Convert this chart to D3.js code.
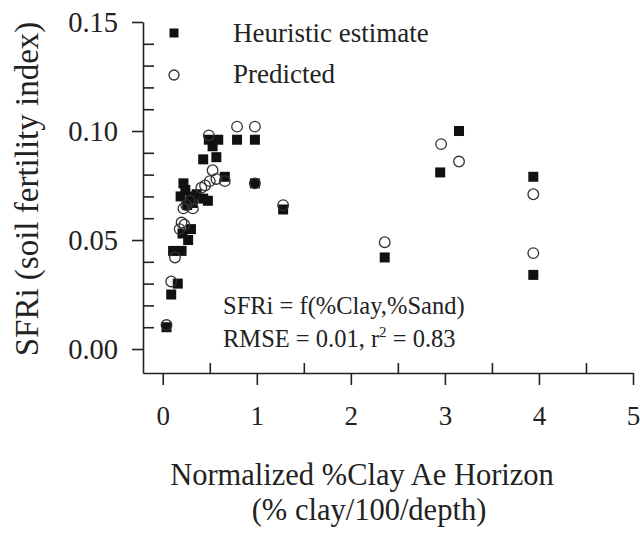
<!DOCTYPE html>
<html>
<head>
<meta charset="utf-8">
<script src="https://cdn.jsdelivr.net/npm/d3@7"></script>
<style>
  body { margin: 0; background: #fff; }
  text { font-family: "Liberation Serif", "Times New Roman", serif; fill: #222; }
</style>
</head>
<body>
<div class="viz"></div>
<script>
// heuristic estimate (filled squares): [normalized clay, SFRi]
const heuristicX = [0.04, 0.09, 0.16, 0.11, 0.20, 0.27, 0.21, 0.30, 0.19, 0.24, 0.30, 0.43, 0.48, 0.36, 0.22,
                    0.26, 0.32, 0.43, 0.57, 0.53, 0.49, 0.59, 0.79, 0.98, 0.66, 0.98, 1.28, 2.36, 2.95, 3.15, 3.94, 3.94]
const heuristicY = [0.010, 0.025, 0.030, 0.045, 0.045, 0.050, 0.053, 0.055, 0.070, 0.073, 0.070, 0.069, 0.068, 0.071, 0.076,
                    0.066, 0.067, 0.087, 0.088, 0.093, 0.096, 0.096, 0.096, 0.096, 0.079, 0.076, 0.064, 0.042, 0.081, 0.100, 0.079, 0.034]

// predicted (open circles)
const predictedX = [0.04, 0.09, 0.13, 0.18, 0.23, 0.20, 0.22, 0.32, 0.25, 0.29, 0.41, 0.45, 0.50, 0.57, 0.66,
                    0.53, 0.49, 0.79, 0.98, 0.98, 1.28, 2.36, 2.96, 3.15, 3.94, 3.94]
const predictedY = [0.011, 0.031, 0.042, 0.055, 0.057, 0.058, 0.0645, 0.0645, 0.066, 0.068, 0.074, 0.075, 0.077, 0.078, 0.077,
                    0.082, 0.098, 0.102, 0.102, 0.076, 0.066, 0.049, 0.094, 0.086, 0.071, 0.044]

const xTicks = [0, 1, 2, 3, 4, 5]
const xMinor = [0.5, 1.5, 2.5, 3.5, 4.5]
const yTicks = [0, 0.05, 0.10, 0.15]
const yMinor = [0.01, 0.02, 0.03, 0.04, 0.06, 0.07, 0.08, 0.09, 0.11, 0.12, 0.13, 0.14]

const seriesNames = ['Heuristic estimate', 'Predicted']
const noteLines = ['SFRi = f(%Clay,%Sand)', 'RMSE = 0.01, r', ' = 0.83']

const width = 640
const height = 533
const mLeft = 143, mRight = 633, mTop = 22, mBottom = 373
const ink = '#222'

const svg = d3.select('.viz')
  .append('svg')
  .attr('width', width)
  .attr('height', height)

const x = d3.scaleLinear().domain([-0.21, 5]).range([mLeft, mRight])
const y = d3.scaleLinear().domain([-0.011, 0.15]).range([mBottom, mTop])

// axes
const xAxis = svg.append('g').attr('transform', `translate(0,${mBottom})`)
xAxis.call(d3.axisBottom(x).tickValues(xTicks).tickSize(12).tickSizeOuter(0).tickFormat(d3.format('d')))
xAxis.append('g').call(d3.axisTop(x).tickValues(xMinor).tickSize(10).tickFormat(''))
  .select('.domain').remove()

const yAxis = svg.append('g').attr('transform', `translate(${mLeft},0)`)
yAxis.call(d3.axisLeft(y).tickValues(yTicks).tickSize(11).tickSizeOuter(0).tickFormat(d3.format('.2f')))
yAxis.append('g').call(d3.axisRight(y).tickValues(yMinor).tickSize(11).tickFormat(''))
  .select('.domain').remove()

svg.selectAll('.domain, .tick line')
  .attr('stroke', ink)
  .attr('stroke-width', 1.6)

xAxis.selectAll('.tick text')
  .attr('font-size', 27)
  .attr('dy', null)
  .attr('y', 52)
yAxis.selectAll('.tick text')
  .attr('font-size', 28.5)
  .attr('x', -25)

svg.selectAll('.tick text')
  .attr('font-family', '"Liberation Serif", serif')
  .attr('fill', ink)

// axis titles
svg.append('text')
  .text('SFRi (soil fertility index)')
  .attr('font-size', 33)
  .attr('text-anchor', 'middle')
  .attr('transform', `translate(38,189) rotate(-90)`)

svg.append('text')
  .text('Normalized %Clay Ae Horizon')
  .attr('font-size', 30.5)
  .attr('text-anchor', 'middle')
  .attr('x', 362)
  .attr('y', 485)

svg.append('text')
  .text('(% clay/100/depth)')
  .attr('font-size', 30.5)
  .attr('text-anchor', 'middle')
  .attr('x', 369)
  .attr('y', 520)

// points: squares first, open circles on top
const heuristic = heuristicX.map((v, i) => ({x: v, y: heuristicY[i]}))
const predicted = predictedX.map((v, i) => ({x: v, y: predictedY[i]}))
const sq = 10

svg.append('g')
  .selectAll('rect')
  .data(heuristic)
  .enter()
  .append('rect')
  .attr('x', d => x(d.x) - sq / 2)
  .attr('y', d => y(d.y) - sq / 2)
  .attr('width', sq)
  .attr('height', sq)
  .attr('fill', '#111')

svg.append('g')
  .selectAll('circle')
  .data(predicted)
  .enter()
  .append('circle')
  .attr('cx', d => x(d.x))
  .attr('cy', d => y(d.y))
  .attr('r', 5.3)
  .attr('fill', 'none')
  .attr('stroke', '#333')
  .attr('stroke-width', 1.3)

// legend
const legend = svg.append('g')
legend.append('rect')
  .attr('x', 174 - 4.5).attr('y', 33 - 4.5)
  .attr('width', 9).attr('height', 9)
  .attr('fill', '#111')
legend.append('circle')
  .attr('cx', 174).attr('cy', 75).attr('r', 5)
  .attr('fill', 'none').attr('stroke', '#333').attr('stroke-width', 1.3)
legend.selectAll('text')
  .data(seriesNames)
  .enter()
  .append('text')
  .text(d => d)
  .attr('font-size', 27)
  .attr('x', 233)
  .attr('y', (d, i) => 42 + i * 41)

// fit note
const note = svg.append('g').attr('font-size', 24.5)
note.append('text').text(noteLines[0]).attr('x', 223).attr('y', 314)
const rm = note.append('text').attr('x', 223).attr('y', 347)
rm.append('tspan').text(noteLines[1])
rm.append('tspan').text('2').attr('font-size', 15).attr('dy', -10)
rm.append('tspan').text(noteLines[2]).attr('dy', 10)
</script>
</body>
</html>
